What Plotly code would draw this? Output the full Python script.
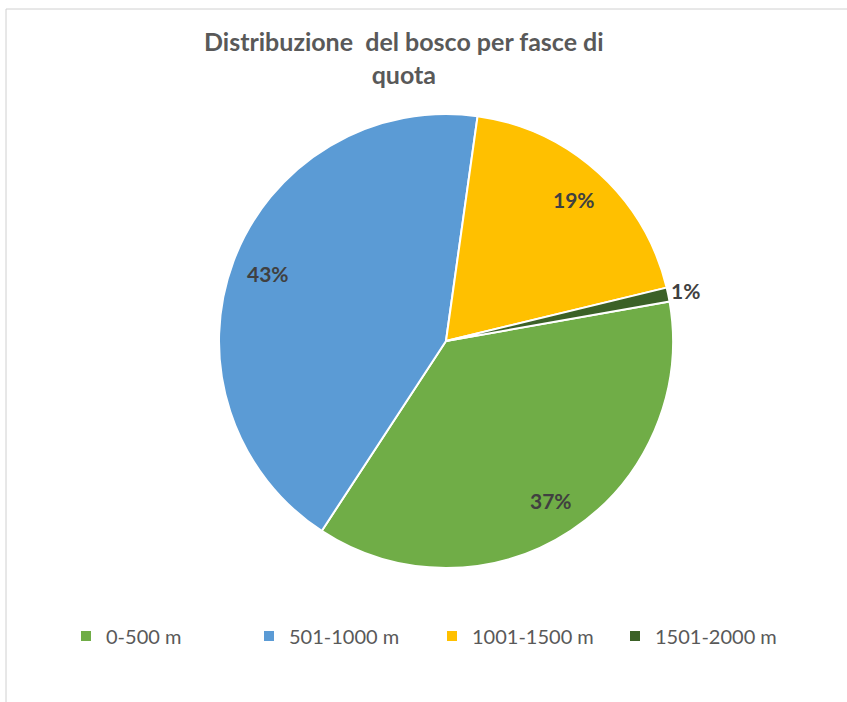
import math
import plotly.graph_objects as go

# Forest share by altitude band
categories = ["0-500 m", "501-1000 m", "1001-1500 m", "1501-2000 m"]
values = [37, 43, 19, 1]
colors = ["#70AD47", "#5B9BD5", "#FFC000", "#3B6127"]
title_text = "Distribuzione  del bosco per fasce di<br>quota"

W, H = 847, 702
cx, cy, r = 446, 341, 227
rotation = 80  # first slice starts here, degrees clockwise from 12 o'clock

fig = go.Figure(go.Pie(
    labels=categories,
    values=values,
    marker=dict(colors=colors, line=dict(color="white", width=2)),
    sort=False,
    direction="clockwise",
    rotation=rotation,
    textinfo="none",
    hoverinfo="label+percent",
    domain=dict(x=[(cx - r) / W, (cx + r) / W],
                y=[(H - cy - r) / H, (H - cy + r) / H]),
))

# percentage labels placed at the middle angle of each slice
total = sum(values)
acc = 0.0
annotations = []
for v in values:
    mid = rotation + (acc + v / 2) / total * 360
    acc += v
    pct = round(v / total * 100)
    frac = 1.08 if pct < 3 else 0.84
    a = math.radians(mid)
    px = cx + frac * r * math.sin(a)
    py = cy - frac * r * math.cos(a)
    annotations.append(dict(
        x=px / W, y=1 - py / H, xref="paper", yref="paper",
        xanchor="center", yanchor="middle",
        text=f"<b>{pct}%</b>", showarrow=False,
        font=dict(family="Lato, Open Sans, sans-serif", size=21, color="#404040"),
    ))

annotations.append(dict(
    x=404 / W, y=1 - 58 / H, xref="paper", yref="paper",
    xanchor="center", yanchor="middle",
    text=f"<b>{title_text}</b>", showarrow=False,
    font=dict(family="Lato, Open Sans, sans-serif", size=25, color="#595959"),
    align="center",
))

fig.update_layout(
    width=W, height=H,
    margin=dict(l=0, r=0, t=0, b=0),
    paper_bgcolor="white",
    plot_bgcolor="white",
    annotations=annotations,
    showlegend=True,
    legend=dict(
        orientation="h",
        x=66 / W, y=1 - 636 / H, xanchor="left", yanchor="middle",
        font=dict(family="Lato, Open Sans, sans-serif", size=20, color="#595959"),
        itemwidth=30,
        entrywidth=138,
        traceorder="normal",
    ),
    shapes=[dict(
        type="rect", xref="paper", yref="paper",
        x0=6 / W, x1=1.05, y0=-0.05, y1=1 - 9 / H,
        line=dict(color="#D0D0D0", width=1), fillcolor="rgba(0,0,0,0)",
        layer="below",
    )],
)

fig.write_html("out.html")
